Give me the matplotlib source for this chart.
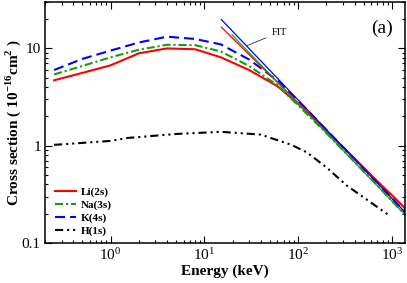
import matplotlib
matplotlib.use("Agg")
import matplotlib.pyplot as plt
from matplotlib.ticker import LogLocator, FixedLocator, FixedFormatter, NullFormatter

plt.rcParams['font.family'] = ['Liberation Serif', 'DejaVu Serif']
plt.rcParams['mathtext.fontset'] = 'custom'
plt.rcParams['mathtext.rm'] = 'Liberation Serif'
plt.rcParams['mathtext.bf'] = 'Liberation Serif:bold'

# energies (keV) and cross sections (1e-16 cm^2)
energy = [0.25, 0.5, 1, 2, 4, 8, 15, 30, 60, 100, 200, 400, 700, 1000, 1500]
li_2s = [4.7, 5.6, 6.7, 8.9, 10.0, 9.8, 8.1, 6.0, 4.1, 2.7, 1.42, 0.74, 0.43, 0.31, 0.21]
na_3s = [5.4, 6.6, 8.1, 9.7, 10.9, 10.8, 9.3, 6.6, 4.2, 2.6, 1.35, 0.68, 0.39, 0.27, 0.18]
k_4s = [6.0, 7.8, 9.5, 11.5, 13.2, 12.5, 11.0, 7.7, 4.7, 2.9, 1.46, 0.73, 0.42, 0.29, 0.19]

energy_h = [0.25, 1, 1.5, 5, 15, 40, 85, 125, 200, 330, 600, 950]
h_1s = [1.02, 1.12, 1.2, 1.32, 1.39, 1.3, 1.02, 0.85, 0.6, 0.39, 0.26, 0.19]

# power-law fits, end points only
fit_li_e = [15.2, 1400]
fit_li = [16.5, 0.225]
fit_na_e = [19.7, 1400]
fit_na = [13.8, 0.193]
fit_k_e = [15.2, 1400]
fit_k = [19.8, 0.205]

red = '#ff0000'
green = '#10a010'
blue = '#0000ff'

fig = plt.figure(figsize=(4.07, 2.83), dpi=100)
ax = fig.add_axes([45/407, 1 - 243/283, 360/407, 241/283])

lw = 1.5
ax.plot(energy, li_2s, color=red, lw=lw, label='Li(2s)')
ax.plot(energy, na_3s, color=green, lw=lw, ls=(0, (3.9, 1.4, 1, 1.4)), label='Na(3s)')
ax.plot(energy, k_4s, color=blue, lw=lw, ls=(0, (4.8, 2.4)), label='K(4s)')
ax.plot(energy_h, h_1s, color='k', lw=lw, ls=(0, (3.9, 1.9, 1, 1.9, 1, 1.9)), label='H(1s)')

ax.plot(fit_li_e, fit_li, color=red, lw=0.9)
ax.plot(fit_na_e, fit_na, color=green, lw=0.9)
ax.plot(fit_k_e, fit_k, color=blue, lw=0.9)

ax.set_xscale('log')
ax.set_yscale('log')
ax.set_xlim(0.2, 1380)
ax.set_ylim(0.1, 30)

ax.yaxis.set_major_locator(FixedLocator([0.1, 1, 10]))
ax.yaxis.set_major_formatter(FixedFormatter(['0.1', '1', '10']))
ax.yaxis.set_minor_locator(LogLocator(base=10, subs=range(2, 10)))
ax.yaxis.set_minor_formatter(NullFormatter())
ax.xaxis.set_minor_locator(LogLocator(base=10, subs=range(2, 10)))
ax.xaxis.set_minor_formatter(NullFormatter())

ax.tick_params(which='both', direction='in', top=True, right=True, labelsize=11, width=0.8)
ax.tick_params(which='major', length=5, pad=3)
ax.tick_params(which='minor', length=2.5)
for s in ax.spines.values():
    s.set_linewidth(1.1)

ax.set_xlabel('Energy (keV)', fontsize=11, fontweight='bold', labelpad=1)
ax.set_ylabel(r'Cross section ( 10$^{\mathbf{-16}}$cm$^{\mathbf{2}}$ )', fontsize=11, fontweight='bold')
ax.yaxis.set_label_coords(-0.062, 0.5)

ax.text(0.935, 0.89, '(a)', transform=ax.transAxes, fontsize=14, ha='center', va='center')
ax.annotate('FIT', xy=(28.7, 10.7), xytext=(62.8, 14.6), fontsize=7.5,
            ha='center', va='center',
            arrowprops=dict(arrowstyle='-', color='#333333', lw=0.6, shrinkA=2, shrinkB=0))

leg = ax.legend(loc='lower left', bbox_to_anchor=(0.028, 0.03), frameon=False,
                borderpad=0, borderaxespad=0, handlelength=1.9, handletextpad=0.4,
                labelspacing=0.25, prop={'weight': 'bold', 'size': 8})

fig.savefig('out.png', dpi=100)
